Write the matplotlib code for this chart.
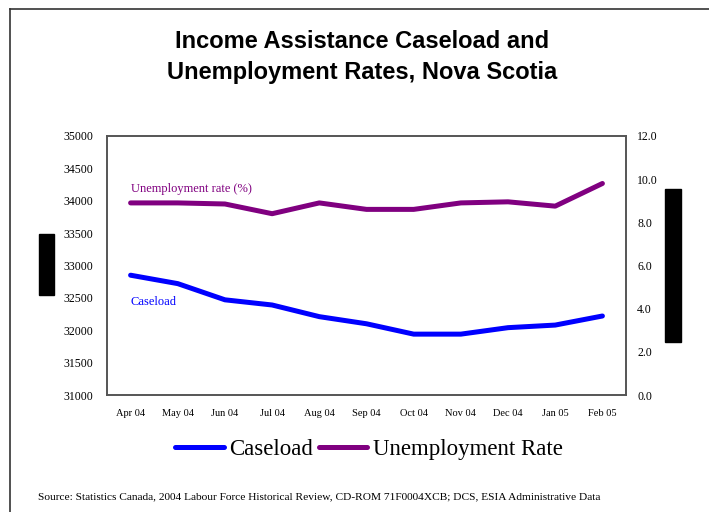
import numpy as np
import matplotlib
matplotlib.use("Agg")
import matplotlib.pyplot as plt
from matplotlib.patches import Rectangle
from matplotlib.lines import Line2D

# data
months = ["Apr 04", "May 04", "Jun 04", "Jul 04", "Aug 04", "Sep 04",
          "Oct 04", "Nov 04", "Dec 04", "Jan 05", "Feb 05"]
caseload = [32850, 32720, 32470, 32390, 32210, 32100, 31940, 31940, 32040, 32080, 32220]
unemp = [8.9, 8.9, 8.85, 8.4, 8.9, 8.6, 8.6, 8.9, 8.95, 8.75, 9.8]

serif = "Liberation Serif"
sans = "Liberation Sans"
blue = "#0000ff"
purple = "#800080"

fig = plt.figure(figsize=(7.09, 5.12), dpi=100)
W, H = 709, 512

ax = fig.add_axes([107 / W, 1 - 395 / H, 519 / W, 259 / H])
x = np.arange(len(months))
ax.plot(x, caseload, color=blue, lw=3.6, solid_capstyle="round", solid_joinstyle="round")
ax.set_xlim(-0.5, len(months) - 0.5)
ax.set_ylim(31000, 35000)
ax.set_yticks(np.arange(31000, 35001, 500))
ax.set_yticklabels([str(v) for v in range(31000, 35001, 500)], fontfamily=serif, fontsize=8.5)
ax.set_xticks(x)
ax.set_xticklabels(months, fontfamily=serif, fontsize=7.5)
ax.tick_params(axis="both", length=0)
ax.tick_params(axis="y", pad=10)
ax.tick_params(axis="x", pad=10)

ax2 = ax.twinx()
ax2.plot(x, unemp, color=purple, lw=3.6, solid_capstyle="round", solid_joinstyle="round")
ax2.set_ylim(0, 12)
ax2.set_yticks(np.arange(0, 12.1, 2))
ax2.set_yticklabels(["%.1f" % v for v in np.arange(0, 12.1, 2)], fontfamily=serif, fontsize=8.5)
ax2.tick_params(axis="y", length=0, pad=8)

for a in (ax, ax2):
    for s in a.spines.values():
        s.set_color("#555555")
        s.set_linewidth(1.2)

ax.text(0, 34180, "Unemployment rate (%)", color=purple, fontfamily=serif, fontsize=9, va="center")
ax.text(0, 32430, "Caseload", color=blue, fontfamily=serif, fontsize=9, va="center")

fig.text(362 / W, 1 - 57 / H, "Income Assistance Caseload and\nUnemployment Rates, Nova Scotia",
         ha="center", va="center", fontfamily=sans, fontweight="bold", fontsize=17, linespacing=1.45)

handles = [Line2D([], [], color=blue, lw=3.6, solid_capstyle="round"),
           Line2D([], [], color=purple, lw=3.6, solid_capstyle="round")]
fig.legend(handles, ["Caseload", "Unemployment Rate"], loc="center", bbox_to_anchor=(369 / W, 1 - 449 / H),
           ncol=2, frameon=False, prop={"family": serif, "size": 16.5}, handlelength=2.1,
           handletextpad=0.25, columnspacing=0.25)

fig.text(38 / W, 1 - 497 / H,
         "Source: Statistics Canada, 2004 Labour Force Historical Review, CD-ROM 71F0004XCB; DCS, ESIA Administrative Data",
         fontfamily=serif, fontsize=8.2, va="center")

# outer frame lines and blacked-out label blocks
fig.add_artist(Line2D([10 / W, 10 / W], [0, 1 - 9 / H], color="#333333", lw=1.2))
fig.add_artist(Line2D([10 / W, 1], [1 - 9 / H, 1 - 9 / H], color="#333333", lw=1.2))
fig.add_artist(Rectangle((39 / W, 1 - 295 / H), 15 / W, 61 / H, color="black"))
fig.add_artist(Rectangle((665 / W, 1 - 342 / H), 16 / W, 153 / H, color="black"))

fig.savefig("out.png", dpi=100)
